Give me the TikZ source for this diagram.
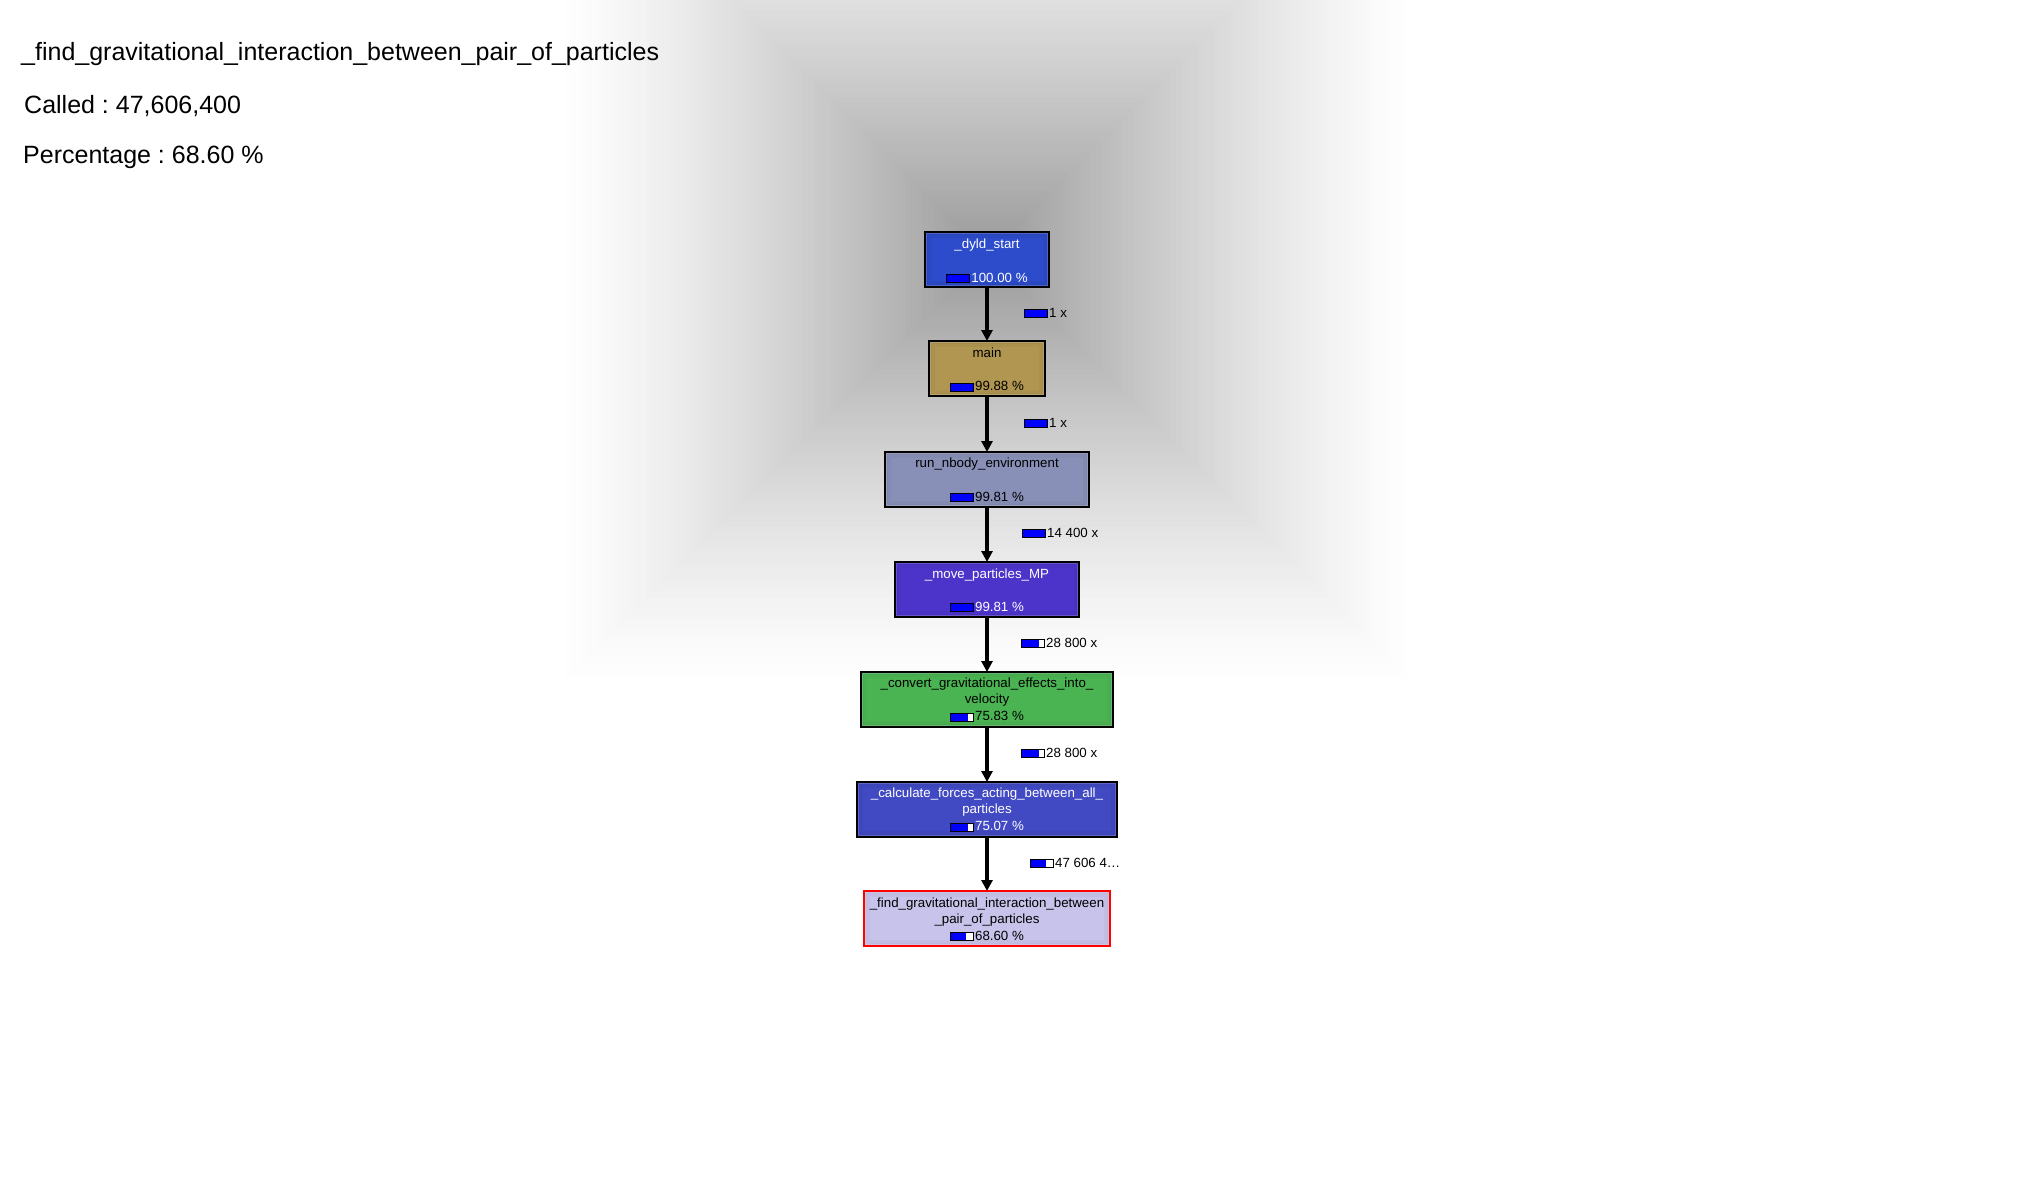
\documentclass[tikz,border=0pt]{standalone}
\usepackage{fontspec}
\setmainfont{Liberation Sans}
\usetikzlibrary{arrows.meta,calc}
\frenchspacing

\definecolor{cDyld}{HTML}{2C4CCB}
\definecolor{cMain}{HTML}{B19651}
\definecolor{cRun}{HTML}{8890B8}
\definecolor{cMove}{HTML}{4C34CB}
\definecolor{cConv}{HTML}{4BB452}
\definecolor{cCalc}{HTML}{4149C3}
\definecolor{cFind}{HTML}{C8C3EA}

\newcommand\pbar[1]{{\setlength\fboxsep{0pt}\setlength\fboxrule{1pt}\fcolorbox{black}{white}{\makebox[22pt][l]{\textcolor{blue}{\rule{#1\dimexpr 22pt\relax}{7pt}}}}}}

\begin{document}
\frenchspacing
\begin{tikzpicture}[x=1pt,y=-1pt,
  box/.style={draw=black, line width=1.4pt, minimum height=55pt, inner sep=0pt, outer sep=0pt, anchor=north},
  rim/.style={path picture={
      \draw[#1, opacity=0.22, line width=12pt] (path picture bounding box.south west) rectangle (path picture bounding box.north east);
      \draw[#1, opacity=0.22, line width=6pt] (path picture bounding box.south west) rectangle (path picture bounding box.north east);
      \draw[white, opacity=0.18, line width=4pt] (path picture bounding box.south west) rectangle (path picture bounding box.north east);}},
  lbl/.style={font=\fontsize{13.3}{16}\selectfont, inner sep=0pt, anchor=base},
  elbl/.style={font=\fontsize{13.3}{16}\selectfont, inner sep=0pt, anchor=base west},
  big/.style={font=\fontsize{25}{30}\selectfont, inner sep=0pt, anchor=base west},
  call/.style={line width=4pt, -{Triangle[width=11pt,length=11pt]}}]

\useasboundingbox (0,0) rectangle (2020,1179);
\clip (0,0) rectangle (2020,1179);
\fill[white] (0,0) rectangle (2020,1179);

% background rectangular shading
\foreach \i in {1,...,80}{
  \pgfmathsetmacro\d{1-\i/80}
  \pgfmathsetmacro\g{40*pow(1-\d,1.3)}
  \fill[black!\g] (987-433*\d, 255-435*\d) rectangle (987+433*\d, 255+435*\d);
}

% header texts
\node[big] (title) at (21,60) {\_find\_gravitational\_interaction\_between\_pair\_of\_particles};
\node[big] (called) at (24,113) {Called : 47,606,400};
\node[big] (pct) at (23,163) {Percentage : 68.60 \%};

% boxes
\node[box, fill=cDyld, rim=cDyld!80!black, minimum width=124pt] (n1) at (987,232) {};
\node[box, fill=cMain, rim=cMain!85!black, minimum width=116pt] (n2) at (987,341) {};
\node[box, fill=cRun,  rim=cRun!85!black,  minimum width=204pt] (n3) at (987,452) {};
\node[box, fill=cMove, rim=cMove!85!black, minimum width=184pt] (n4) at (987,562) {};
\node[box, fill=cConv, rim=cConv!85!black, minimum width=252pt] (n5) at (987,672) {};
\node[box, fill=cCalc, rim=cCalc!85!black, minimum width=260pt] (n6) at (987,782) {};
\node[box, draw=red, line width=1.2pt, fill=cFind, rim=cFind!88!black, minimum width=246pt] (n7) at (987,891) {};

% box texts
\node[lbl, text=white] (t1) at (987,248.5) {\_dyld\_start};
\node[lbl, text=white] (p1) at (987,282) {\pbar{1}\hspace{1pt}100.00 \%};

\node[lbl] (t2) at (987,357) {main};
\node[lbl] (p2) at (987,390.5) {\pbar{0.9988}\hspace{1pt}99.88 \%};

\node[lbl] (t3) at (987,467.5) {run\_nbody\_environment};
\node[lbl] (p3) at (987,501) {\pbar{0.9981}\hspace{1pt}99.81 \%};

\node[lbl, text=white] (t4) at (987,578) {\_move\_particles\_MP};
\node[lbl, text=white] (p4) at (987,611) {\pbar{0.9981}\hspace{1pt}99.81 \%};

\node[lbl] (t5a) at (987,687.5) {\_convert\_gravitational\_effects\_into\_};
\node[lbl] (t5b) at (987,703.5) {velocity};
\node[lbl] (p5) at (987,720.5) {\pbar{0.7583}\hspace{1pt}75.83 \%};

\node[lbl, text=white] (t6a) at (987,797.5) {\_calculate\_forces\_acting\_between\_all\_};
\node[lbl, text=white] (t6b) at (987,813.5) {particles};
\node[lbl, text=white] (p6) at (987,830.5) {\pbar{0.7507}\hspace{1pt}75.07 \%};

\node[lbl] (t7a) at (987,907) {\_find\_gravitational\_interaction\_between};
\node[lbl] (t7b) at (987,923) {\_pair\_of\_particles};
\node[lbl] (p7) at (987,940) {\pbar{0.686}\hspace{1pt}68.60 \%};

% calls
\draw[call] (n1) -- (n2);
\draw[call] (n2) -- (n3);
\draw[call] (n3) -- (n4);
\draw[call] (n4) -- (n5);
\draw[call] (n5) -- (n6);
\draw[call] (n6) -- (n7);

% call labels
\node[elbl] (e1) at (1024,317) {\pbar{1}\hspace{1pt}1 x};
\node[elbl] (e2) at (1024,427) {\pbar{1}\hspace{1pt}1 x};
\node[elbl] (e3) at (1022,537) {\pbar{1}\hspace{1pt}14 400 x};
\node[elbl] (e4) at (1021,647) {\pbar{0.7583}\hspace{1pt}28 800 x};
\node[elbl] (e5) at (1021,757) {\pbar{0.7507}\hspace{1pt}28 800 x};
\node[elbl] (e6) at (1030,867) {\pbar{0.686}\hspace{1pt}47 606 4…};
\end{tikzpicture}
\end{document}
